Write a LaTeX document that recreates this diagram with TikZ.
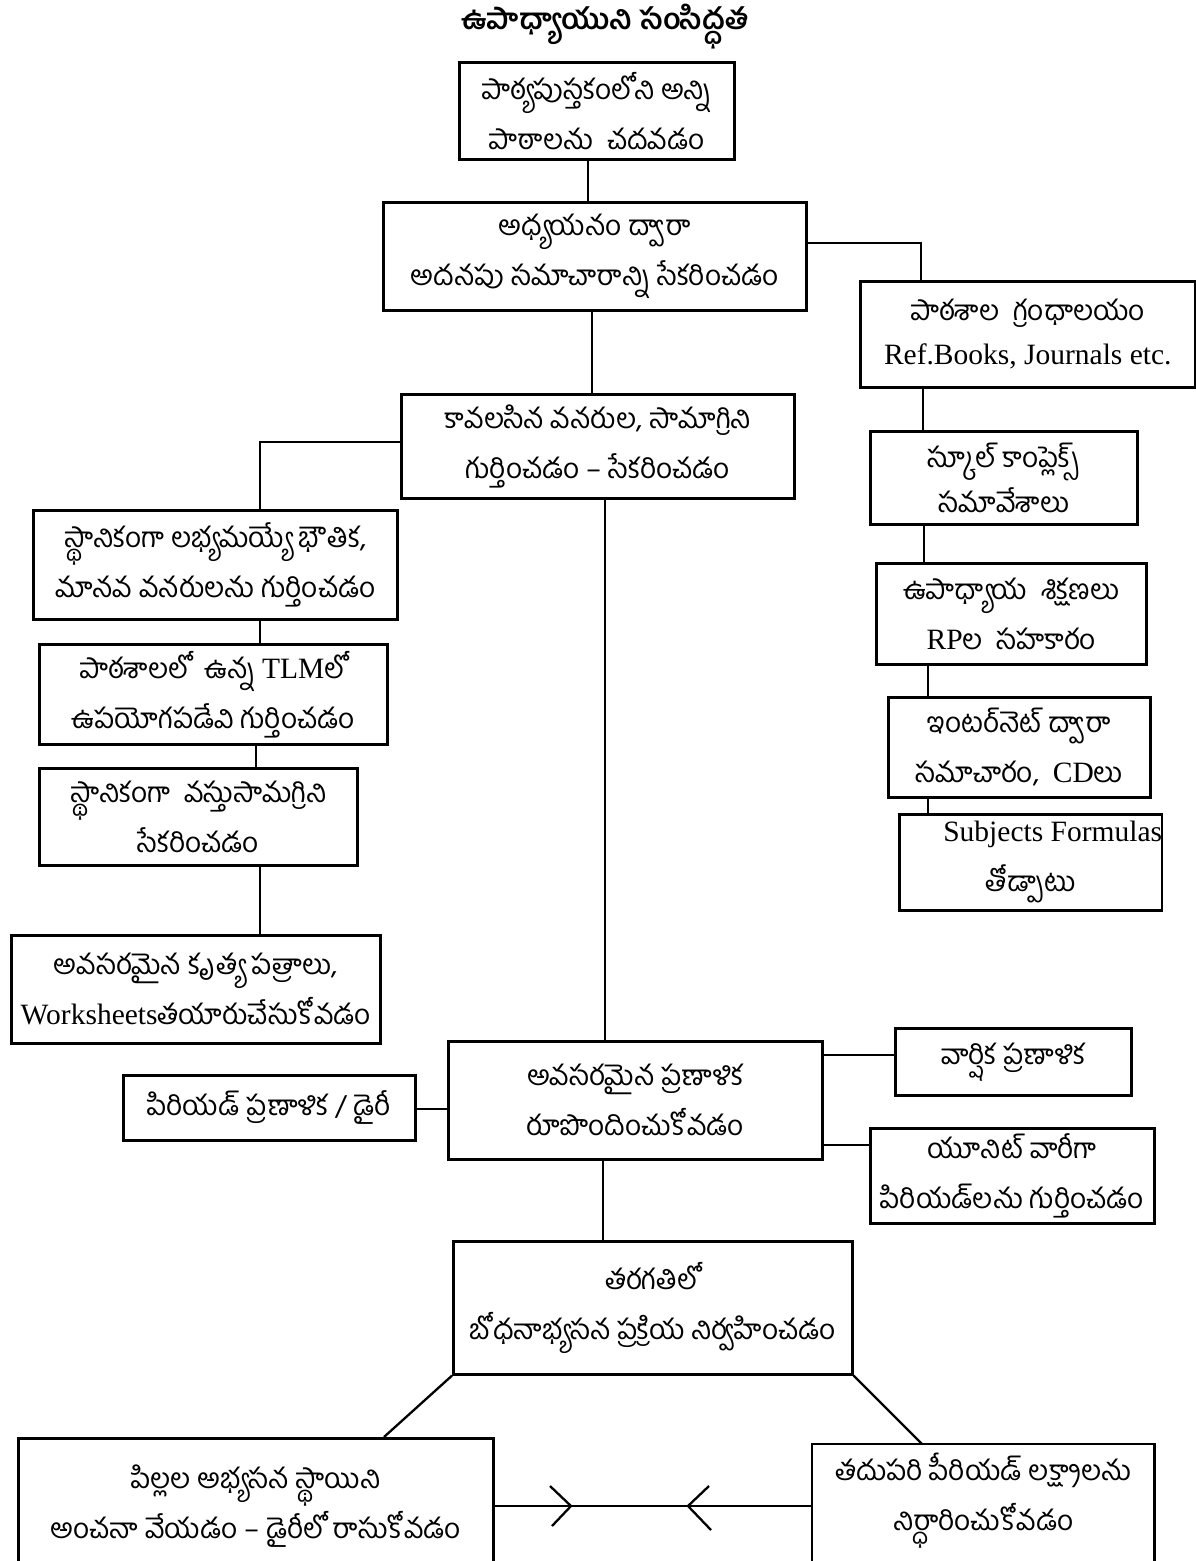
\documentclass[tikz,border=0pt]{standalone}
\usepackage{fontspec}
\setmainfont{Liberation Serif}
\newfontfamily\te[Script=Telugu]{Hind Guntur}
\usetikzlibrary{calc}
\newcommand\lat[1]{{\rmfamily\fontsize{29.5}{50}\selectfont #1}}
\begin{document}
\begin{tikzpicture}[x=1pt,y=-1pt,
  box/.style={draw, line width=2.6pt, align=center, inner sep=0pt, anchor=north west,
    font=\te\fontsize{28}{50}\selectfont},
  conn/.style={line width=2.3pt},
  titlestyle/.style={font=\te\bfseries\fontsize{29}{34}\selectfont, inner sep=0pt}]
\useasboundingbox (0,0) rectangle (1196,1561);
\clip (0,0) rectangle (1196,1561);

\node[titlestyle] (title) at (605,27) {ఉపాధ్యాయుని సంసిద్ధత};

\node[box, minimum width=275pt, minimum height=97pt] (B1) at (458,61) {పాఠ్యపుస్తకంలోని అన్ని\\పాఠాలను\ \ చదవడం};
\node[box, minimum width=423pt, minimum height=108pt] (B2) at (382,201) {అధ్యయనం ద్వారా\\అదనపు సమాచారాన్ని సేకరించడం};
\node[box, minimum width=335pt, minimum height=106pt] (B3) at (859,280) {పాఠశాల\ \ గ్రంధాలయం\\[-6pt]\lat{Ref.Books, Journals etc.}};
\node[box, minimum width=267pt, minimum height=93pt] (B4) at (869,430) {స్కూల్ కాంప్లెక్స్\\[-5pt]సమావేశాలు};
\node[box, minimum width=270pt, minimum height=101pt] (B5) at (875,562) {ఉపాధ్యాయ\ \ శిక్షణలు\\\lat{RP}ల\ \ సహకారం};
\node[box, minimum width=262pt, minimum height=100pt] (B6) at (887,696) {ఇంటర్‌నెట్ ద్వారా\\సమాచారం,\ \ \lat{CD}లు};
\node[box, minimum width=257pt, minimum height=96pt] (B7) at (898,813) {\hspace*{44pt}\lat{Subjects Formulas}\\తోడ్పాటు};
\node[box, minimum width=393pt, minimum height=104pt] (B8) at (400,393) {కావలసిన వనరుల, సామాగ్రిని\\గుర్తించడం – సేకరించడం};
\node[box, minimum width=364pt, minimum height=109pt] (B9) at (32,509) {స్థానికంగా లభ్యమయ్యే భౌతిక,\\మానవ వనరులను గుర్తించడం};
\node[box, minimum width=348pt, minimum height=100pt] (B10) at (38,643) {పాఠశాలలో\ \ ఉన్న \lat{TLM}లో\\ఉపయోగపడేవి గుర్తించడం};
\node[box, minimum width=318pt, minimum height=97pt] (B11) at (38,767) {స్థానికంగా\ \ వస్తుసామగ్రిని\\సేకరించడం};
\node[box, minimum width=369pt, minimum height=108pt] (B12) at (10,934) {అవసరమైన కృత్య పత్రాలు,\\\lat{Worksheets}తయారుచేసుకోవడం};
\node[box, minimum width=374pt, minimum height=118pt] (B13) at (447,1040) {అవసరమైన ప్రణాళిక\\రూపొందించుకోవడం};
\node[box, minimum width=236pt, minimum height=67pt] (B14) at (894,1027) {వార్షిక ప్రణాళిక};
\node[box, minimum width=284pt, minimum height=95pt] (B15) at (869,1127) {యూనిట్ వారీగా\\పిరియడ్‌లను గుర్తించడం};
\node[box, minimum width=292pt, minimum height=65pt] (B16) at (122,1074) {పిరియడ్ ప్రణాళిక / డైరీ};
\node[box, minimum width=399pt, minimum height=133pt] (B17) at (452,1240) {తరగతిలో\\బోధనాభ్యసన ప్రక్రియ నిర్వహించడం};
\node[box, minimum width=475pt, minimum height=136pt] (B18) at (17,1437) {పిల్లల అభ్యసన స్థాయిని\\అంచనా వేయడం – డైరీలో రాసుకోవడం};
\node[box, draw=none, minimum width=340pt, minimum height=110pt] (B19) at (812,1444) {తదుపరి పీరియడ్ లక్ష్యాలను\\నిర్ధారించుకోవడం};
\draw[line width=2.6pt] ($(B19.south west)+(0,40)$) -- (B19.north west) -- (B19.north east) -- ($(B19.south east)+(0,40)$);

% connector anchors
\coordinate (c1) at (588,0);
\coordinate (c2) at (921,243);
\coordinate (c3) at (923,0);
\coordinate (c4) at (924,0);
\coordinate (c5) at (928,0);
\coordinate (c7) at (592,0);
\coordinate (c8) at (260,442);
\coordinate (c10) at (256,0);
\coordinate (c12) at (605,0);
\coordinate (c13) at (0,1055);
\coordinate (c14) at (0,1145);
\coordinate (c15) at (0,1109);
\coordinate (c16) at (603,0);
\coordinate (d1) at (384,0);
\coordinate (d2) at (922,0);
\coordinate (t1) at (571,1506);
\coordinate (t2) at (688,1506);

\draw[conn] (B1.south -| c1) -- (B2.north -| c1);
\draw[conn] (c2 -| B2.east) -| (B3.north -| c2);
\draw[conn] (B3.south -| c3) -- (B4.north -| c3);
\draw[conn] (B4.south -| c4) -- (B5.north -| c4);
\draw[conn] (B5.south -| c5) -- (B6.north -| c5);
\draw[conn] (B6.south -| c5) -- (B7.north -| c5);
\draw[conn] (B2.south -| c7) -- (B8.north -| c7);
\draw[conn] (c8 -| B8.west) -| (B9.north -| c8);
\draw[conn] (B9.south -| c8) -- (B10.north -| c8);
\draw[conn] (B10.south -| c10) -- (B11.north -| c10);
\draw[conn] (B11.south -| c8) -- (B12.north -| c8);
\draw[conn] (B8.south -| c12) -- (B13.north -| c12);
\draw[conn] (B13.east |- c13) -- (B14.west |- c13);
\draw[conn] (B13.east |- c14) -- (B15.west |- c14);
\draw[conn] (B16.east |- c15) -- (B13.west |- c15);
\draw[conn] (B13.south -| c16) -- (B17.north -| c16);
\draw[conn] (B17.south west) -- (B18.north -| d1);
\draw[conn] (B17.south east) -- (B19.north -| d2);
\draw[line width=2.8pt] (B18.east |- t1) -- (B19.west |- t1);
\draw[conn] ($(t1)+(-21,-20)$) -- (t1) -- ($(t1)+(-19,20)$);
\draw[conn] ($(t2)+(21,-20)$) -- (t2) -- ($(t2)+(23,24)$);
\end{tikzpicture}
\end{document}
